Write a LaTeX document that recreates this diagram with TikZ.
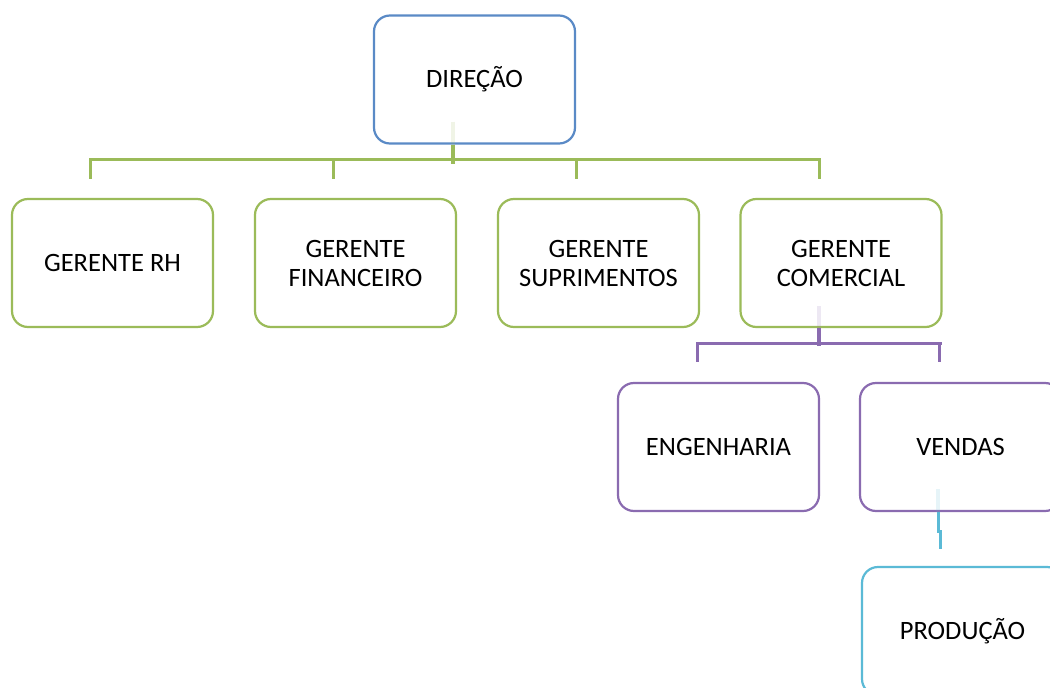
\documentclass[tikz,border=0pt]{standalone}
\usepackage{fontspec}
\setmainfont{Carlito}
\usetikzlibrary{calc}
\definecolor{cgreen}{HTML}{9BBB59}
\definecolor{cblue}{HTML}{5A8AC6}
\definecolor{cpurple}{HTML}{8A6BB0}
\definecolor{caqua}{HTML}{5BBAD6}
\tikzset{
  orgbox/.style={draw=#1, line width=2.2pt, rounded corners=16pt, fill=white,
    minimum width=201pt, minimum height=128pt, inner sep=0pt,
    align=center, text=black, font=\fontsize{26.5pt}{29pt}\selectfont},
  link/.style={draw=#1, line width=3pt},
  faint/.style={draw=#1, line width=4pt, opacity=0.15},
}
\begin{document}
\begin{tikzpicture}[x=1pt,y=-1pt]
\useasboundingbox (0,0) rectangle (1050,688);
\clip (0,0) rectangle (1050,688);

% boxes
\node[orgbox=cblue] (dir) at (474.5,79.5) {DIREÇÃO};
\node[orgbox=cgreen] (rh) at (112.5,263) {GERENTE RH};
\node[orgbox=cgreen] (fin) at (355.5,263) {GERENTE\\FINANCEIRO};
\node[orgbox=cgreen] (sup) at (598.5,263) {GERENTE\\SUPRIMENTOS};
\node[orgbox=cgreen] (com) at (841,263) {GERENTE\\COMERCIAL};
\node[orgbox=cpurple] (eng) at (718.5,447) {ENGENHARIA};
\node[orgbox=cpurple] (ven) at (960.5,447) {VENDAS};
\node[orgbox=caqua] (prod) at (962.5,631) {PRODUÇÃO};

% green tree below DIREÇÃO
\coordinate (dstub) at ($(dir.south)+(-22,0)$);
\draw[faint=cgreen] ($(dstub)+(0,-23)$) -- (dstub);
\draw[link=cgreen, line width=4pt] (dstub) -- ($(dstub)+(0,19)$);
\draw[link=cgreen, line cap=rect] ($(rh.north)+(-22,-38)$) -- ($(com.north)+(-22,-38)$);
\foreach \n in {rh,fin,sup,com}
  \draw[link=cgreen] ($(\n.north)+(-22,-38)$) -- ($(\n.north)+(-22,-19)$);

% purple tree below GERENTE COMERCIAL
\coordinate (cstub) at ($(com.south)+(-22,0)$);
\draw[faint=cpurple] ($(cstub)+(0,-22)$) -- (cstub);
\draw[link=cpurple, line width=4pt] (cstub) -- ($(cstub)+(0,18)$);
\draw[link=cpurple, line cap=rect] ($(eng.north)+(-21.5,-38)$) -- ($(ven.north)+(-20.5,-38)$);
\foreach \n in {eng,ven}
  \draw[link=cpurple] ($(\n.north)+(-21.5,-38)$) -- ($(\n.north)+(-21.5,-20)$);

% aqua link below VENDAS
\coordinate (vstub) at ($(ven.south)+(-22.5,0)$);
\draw[faint=caqua] ($(vstub)+(0,-23)$) -- (vstub);
\draw[link=caqua] (vstub) -- ++(0,19) -- ++(2,0) -- ++(0,18);
\end{tikzpicture}
\end{document}
